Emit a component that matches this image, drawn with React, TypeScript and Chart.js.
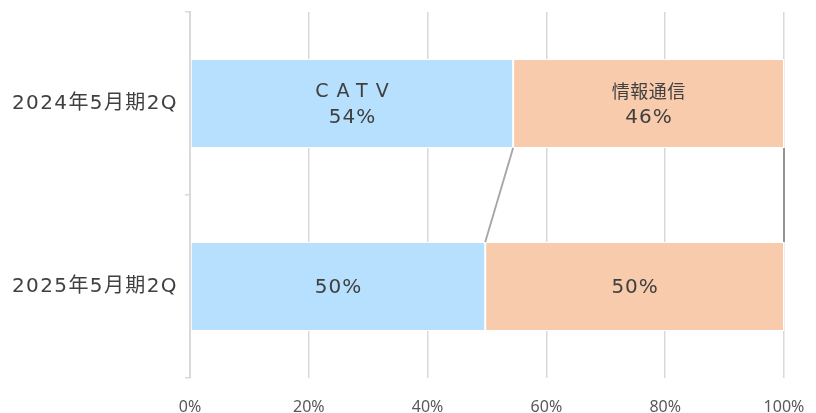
import React, { useEffect, useRef } from 'react';
import { Chart, registerables } from 'chart.js';

Chart.register(...registerables);

const categories = ['2024年5月期2Q', '2025年5月期2Q'];
const seriesNames = ['CATV', '情報通信'];
const catvShare = [54.4, 49.7];
const infoShare = [45.6, 50.3];
const nameShownInCategory = [true, false];
const xTickStep = 20;

const TEXT = '#404040';
const FAMILY = '"DejaVu Sans", "Noto Sans CJK JP"';

function spacedText(ctx: any, text: string, x: number, y: number, spacing: number) {
  ctx.letterSpacing = spacing + 'px';
  ctx.fillText(text, x + spacing / 2, y);
}

const seriesLinesPlugin = {
  id: 'seriesLines',
  afterDatasetsDraw(chart: any) {
    const ctx = chart.ctx;
    const colors = ['#a6a6a6', '#8c8c8c'];
    chart.data.datasets.forEach((_: any, di: number) => {
      const els = chart.getDatasetMeta(di).data;
      for (let i = 0; i < els.length - 1; i++) {
        const a = els[i];
        const b = els[i + 1];
        ctx.save();
        ctx.strokeStyle = colors[di];
        ctx.lineWidth = 1.8;
        ctx.beginPath();
        ctx.moveTo(a.x, a.y + a.height / 2);
        ctx.lineTo(b.x, b.y - b.height / 2);
        ctx.stroke();
        ctx.restore();
      }
    });
    chart.data.datasets.forEach((ds: any, di: number) => {
      const els = chart.getDatasetMeta(di).data;
      els.forEach((el: any, i: number) => {
        const cx = (el.base + el.x) / 2;
        const cy = el.y;
        const pct = Math.round(ds.data[i]) + '%';
        ctx.save();
        ctx.fillStyle = TEXT;
        ctx.textAlign = 'center';
        ctx.textBaseline = 'middle';
        if (nameShownInCategory[i]) {
          if (di === 0) {
            ctx.font = '19px ' + FAMILY;
            spacedText(ctx, ds.label, cx, cy - 11, 8);
          } else {
            ctx.font = '18px ' + FAMILY;
            spacedText(ctx, ds.label, cx, cy - 10, 0.5);
          }
          ctx.font = '20px ' + FAMILY;
          spacedText(ctx, pct, cx, cy + 14, 1);
        } else {
          ctx.font = '20px ' + FAMILY;
          spacedText(ctx, pct, cx, cy + 1, 1);
        }
        ctx.restore();
      });
    });
  },
  afterDraw(chart: any) {
    const ctx = chart.ctx;
    const yScale = chart.scales.y;
    ctx.save();
    ctx.fillStyle = TEXT;
    ctx.textAlign = 'right';
    ctx.textBaseline = 'middle';
    ctx.font = '20px ' + FAMILY;
    ctx.letterSpacing = '1.4px';
    categories.forEach((c, i) => {
      ctx.fillText(c, chart.chartArea.left - 12, yScale.getPixelForValue(i));
    });
    ctx.restore();
  },
};

export default function App() {
  const ref = useRef<HTMLCanvasElement>(null);
  useEffect(() => {
    if (!ref.current) return;
    const chart = new Chart(ref.current, {
      type: 'bar',
      data: {
        labels: categories,
        datasets: [
          {
            label: seriesNames[0],
            data: catvShare,
            backgroundColor: '#B6E0FD',
            borderColor: '#ffffff',
            borderWidth: 1,
            borderSkipped: false,
            barPercentage: 0.485,
            categoryPercentage: 1,
          },
          {
            label: seriesNames[1],
            data: infoShare,
            backgroundColor: '#F8CBAD',
            borderColor: '#ffffff',
            borderWidth: 1,
            borderSkipped: false,
            barPercentage: 0.485,
            categoryPercentage: 1,
          },
        ],
      },
      options: {
        indexAxis: 'y',
        animation: false,
        responsive: true,
        maintainAspectRatio: false,
        layout: { padding: { top: 4, right: 24, left: 0, bottom: 0 } },
        plugins: {
          legend: { display: false },
          tooltip: { enabled: false },
        },
        scales: {
          x: {
            stacked: true,
            min: 0,
            max: 100,
            afterFit: (s: any) => {
              s.height = 50;
              s.paddingRight = 0;
              s.paddingLeft = 0;
            },
            ticks: {
              stepSize: xTickStep,
              callback: (v: any) => v + '%',
              color: '#595959',
              font: { family: '"Noto Sans"', size: 16 },
              padding: 20,
              maxRotation: 0,
            },
            grid: {
              color: '#d9d9d9',
              lineWidth: 1.5,
              drawTicks: false,
            },
            border: { display: false },
          },
          y: {
            stacked: true,
            afterFit: (s: any) => {
              s.width = 182;
            },
            ticks: { display: false },
            grid: {
              offset: true,
              drawOnChartArea: false,
              drawTicks: true,
              tickLength: 5,
              color: '#d9d9d9',
              lineWidth: 1.5,
            },
            border: { display: true, color: '#d9d9d9', width: 2 },
          },
        },
      },
      plugins: [seriesLinesPlugin],
    } as any);
    return () => chart.destroy();
  }, []);
  return (
    <div style={{ width: 800, height: 420, position: 'relative' }}>
      <canvas ref={ref} />
    </div>
  );
}
